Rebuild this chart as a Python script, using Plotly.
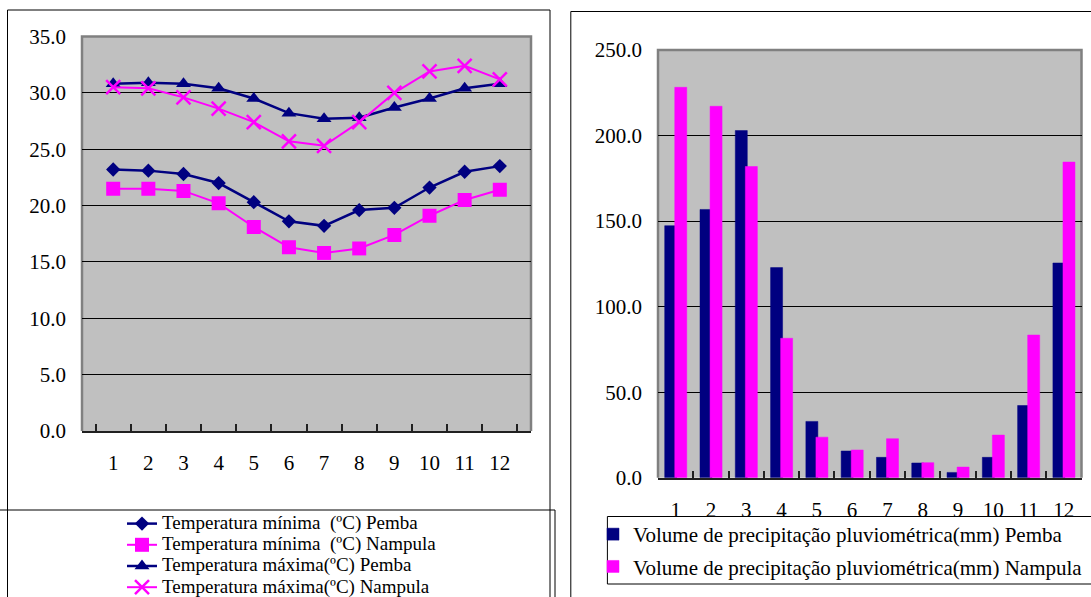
import plotly.graph_objects as go

# ---------------- data ----------------
months = ["1", "2", "3", "4", "5", "6", "7", "8", "9", "10", "11", "12"]

tmin_pemba = [23.2, 23.1, 22.8, 22.0, 20.3, 18.6, 18.2, 19.6, 19.8, 21.6, 23.0, 23.5]
tmin_nampula = [21.5, 21.5, 21.3, 20.2, 18.1, 16.3, 15.8, 16.2, 17.4, 19.1, 20.5, 21.4]
tmax_pemba = [30.8, 30.9, 30.8, 30.4, 29.5, 28.2, 27.7, 27.8, 28.7, 29.5, 30.4, 30.8]
tmax_nampula = [30.5, 30.4, 29.6, 28.6, 27.4, 25.7, 25.3, 27.4, 30.0, 31.9, 32.4, 31.2]

rain_pemba = [147.3, 156.8, 202.9, 122.8, 32.9, 15.6, 11.9, 8.6, 3.1, 11.9, 42.2, 125.5]
rain_nampula = [228.2, 217.1, 181.9, 81.5, 23.7, 16.2, 22.8, 8.8, 6.2, 24.9, 83.4, 184.5]

names_temp = [
    "Temperatura mínima  (ºC) Pemba",
    "Temperatura mínima  (ºC) Nampula",
    "Temperatura máxima(ºC) Pemba",
    "Temperatura máxima(ºC) Nampula",
]
names_rain = [
    "Volume de precipitação pluviométrica(mm) Pemba",
    "Volume de precipitação pluviométrica(mm) Nampula",
]

# ---------------- style ----------------
W, H = 1091, 597
NAVY = "#000080"
MAG = "#FF00FF"
FONT = "Liberation Serif"
FS = 21
LEG1_FS = 19


def px(x):
    return x / W


def py(y):
    return 1 - y / H


def big(t):
    return '<span style="font-size:%dpx">' % LEG1_FS + t + "</span>"


fig = go.Figure()

# ---- temperature lines ----
fig.add_trace(go.Scatter(x=months, y=tmin_pemba, name=big(names_temp[0]), mode="lines+markers",
                         line=dict(color=NAVY, width=2.5),
                         marker=dict(symbol="diamond", size=11, color=NAVY),
                         xaxis="x", yaxis="y", legend="legend", legendgroup="a"))
fig.add_trace(go.Scatter(x=months, y=tmin_nampula, name=big(names_temp[1]), mode="lines+markers",
                         line=dict(color=MAG, width=2),
                         marker=dict(symbol="square", size=14, color=MAG),
                         xaxis="x", yaxis="y", legend="legend", legendgroup="b"))
fig.add_trace(go.Scatter(x=months, y=tmax_pemba, name=big(names_temp[2]), mode="lines+markers",
                         line=dict(color=NAVY, width=2.5),
                         marker=dict(symbol="triangle-up", size=13, color=NAVY),
                         xaxis="x", yaxis="y", legend="legend", legendgroup="c"))
fig.add_trace(go.Scatter(x=months, y=tmax_nampula, name=big(names_temp[3]), mode="lines+markers",
                         line=dict(color=MAG, width=2),
                         marker=dict(symbol="x-thin", size=14, color=MAG,
                                     line=dict(color=MAG, width=2.5)),
                         xaxis="x", yaxis="y", legend="legend", legendgroup="d"))

# ---- rainfall bars ----
fig.add_trace(go.Bar(x=months, y=rain_pemba, name=names_rain[0], width=0.34, offset=-0.31,
                     marker=dict(color=NAVY, line=dict(color=NAVY, width=0.5)),
                     xaxis="x2", yaxis="y2", legend="legend2", legendgroup="e"))
fig.add_trace(go.Bar(x=months, y=rain_nampula, name=names_rain[1], width=0.34, offset=-0.025,
                     marker=dict(color=MAG, line=dict(color=MAG, width=0.5)),
                     xaxis="x2", yaxis="y2", legend="legend2", legendgroup="f"))

axis_font = dict(family=FONT, size=FS, color="black")

xcommon = dict(type="category", tickson="boundaries", ticks="inside", ticklen=7, tickwidth=1.5,
               tickcolor="#202020", showline=True, linecolor="#202020", linewidth=2,
               showgrid=False, tickfont=axis_font, ticklabelstandoff=12, fixedrange=True)
ycommon = dict(showgrid=True, gridcolor="black", gridwidth=1, zeroline=False, showline=False,
               ticks="", tickfont=axis_font, tickformat=".1f", ticklabelstandoff=15, fixedrange=True)

L_PLOT = (82, 531, 36.5, 431)
R_PLOT = (658, 1081.5, 50, 477.7)

shapes = []
# plot area borders (gray)
for (x0, x1, y0, y1) in (L_PLOT, R_PLOT):
    shapes.append(dict(type="path", xref="paper", yref="paper", layer="between",
                       path=f"M{px(x0)},{py(y1)} L{px(x0)},{py(y0)} L{px(x1)},{py(y0)} L{px(x1)},{py(y1)}",
                       line=dict(color="#808080", width=2.5)))
# outer boxes
box = dict(type="rect", xref="paper", yref="paper", line=dict(color="black", width=1), fillcolor="rgba(0,0,0,0)",
           layer="above")
shapes.append(dict(box, x0=px(7.5), x1=px(550), y0=py(620), y1=py(10)))
shapes.append(dict(box, x0=px(-5), x1=px(555), y0=py(620), y1=py(510)))
shapes.append(dict(box, x0=px(570.8), x1=px(1120), y0=py(620), y1=py(11.5)))
shapes.append(dict(box, x0=px(607.4), x1=px(1120), y0=py(584), y1=py(516.5)))

fig.update_layout(
    width=W, height=H,
    margin=dict(l=0, r=0, t=0, b=0, autoexpand=False),
    paper_bgcolor="white",
    plot_bgcolor="#C0C0C0",
    barmode="overlay",
    font=dict(family=FONT, color="black"),
    xaxis=dict(xcommon, domain=[px(L_PLOT[0]), px(L_PLOT[1])], anchor="y"),
    yaxis=dict(ycommon, domain=[py(L_PLOT[3]), py(L_PLOT[2])], range=[0, 35], dtick=5, anchor="x"),
    xaxis2=dict(xcommon, domain=[px(R_PLOT[0]), px(R_PLOT[1])], anchor="y2"),
    yaxis2=dict(ycommon, domain=[py(R_PLOT[3]), py(R_PLOT[2])], range=[0, 250], dtick=50, anchor="x2"),
    legend=dict(x=px(122), y=py(508), xanchor="left", yanchor="top", orientation="v",
                font=dict(family=FONT, size=14, color="black"), bgcolor="rgba(0,0,0,0)",
                borderwidth=0, tracegroupgap=0, itemclick=False, itemdoubleclick=False),
    legend2=dict(x=px(593), y=py(514), xanchor="left", yanchor="top", orientation="v",
                 font=dict(family=FONT, size=FS, color="black"), bgcolor="rgba(0,0,0,0)",
                 borderwidth=0, tracegroupgap=2, itemclick=False, itemdoubleclick=False),
    showlegend=True,
    shapes=shapes,
)

fig.write_html("out.html", config={"displayModeBar": False},
               post_script="document.body.style.margin='0';")
